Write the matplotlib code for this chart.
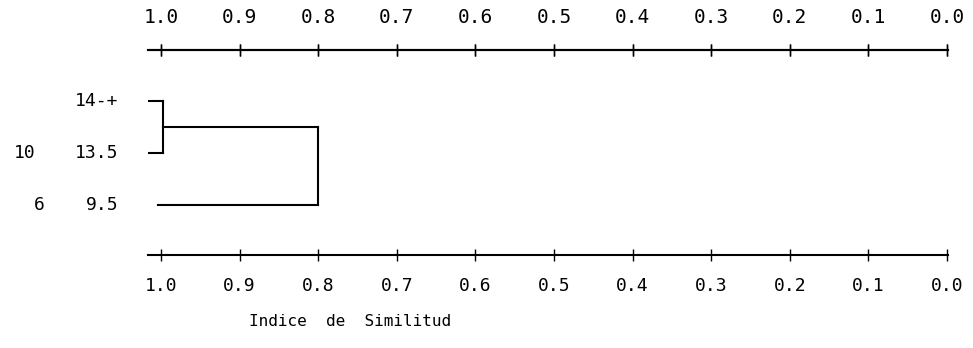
import matplotlib
matplotlib.use("Agg")
import matplotlib.pyplot as plt
import numpy as np

# similarity scale
ticks = [1.0, 0.9, 0.8, 0.7, 0.6, 0.5, 0.4, 0.3, 0.2, 0.1, 0.0]
top_labels = ["1.0", "0.9", "0.8", "0.7", "0.6", "0.5", "0.4", "0.3", "0.2", "0.1", "0.0"]
bottom_labels = ["1.0", "0.9", "0.8", "0.7", "0.6", "0.5", "0.4", "0.3", "0.2", "0.1", "0.0"]

# leaves (top to bottom)
leaf_ids = ["", "10", "6"]
leaf_names = ["14-+", "13.5", "9.5"]

# merges: (leaf a, leaf b, similarity)
merge_1 = (0, 1, 0.998)
merge_2_sim = 0.80  # cluster (0,1) joins leaf 2

plt.rcParams['font.family'] = ['DejaVu Sans Mono']

fig = plt.figure(figsize=(9.73, 3.48), dpi=100)
W, H = 973, 348
ax = fig.add_axes([148 / W, 1 - 255 / H, (948 - 148) / W, (255 - 50) / H])

x_left = 1.0 + 13 / 786
x_right = 0.0 - 1 / 786
ax.set_xlim(x_left, x_right)
ax.set_ylim(2.96, -0.98)

lw = 1.5
stub = 1.016
a, b, s1 = merge_1
# first bracket
ax.plot([stub, s1], [a, a], color="black", lw=lw)
ax.plot([stub, s1], [b, b], color="black", lw=lw)
ax.plot([s1, s1], [a, b], color="black", lw=lw)
mid = (a + b) / 2
# second join
ax.plot([s1, merge_2_sim], [mid, mid], color="black", lw=lw)
ax.plot([1.004, merge_2_sim], [2, 2], color="black", lw=lw)
ax.plot([merge_2_sim, merge_2_sim], [mid, 2], color="black", lw=lw)

# leaf labels
for i, name in enumerate(leaf_names):
    ax.text(1.0547, i, name, ha="right", va="center", fontsize=13, clip_on=False)
id_x = [1.173, 1.173, 1.155]
for i, lid in enumerate(leaf_ids):
    if lid:
        ax.text(id_x[i], i, lid, ha="center", va="center", fontsize=13, clip_on=False)

# axes: top and bottom only
for side in ["left", "right"]:
    ax.spines[side].set_visible(False)
for side in ["top", "bottom"]:
    ax.spines[side].set_linewidth(1.5)
ax.set_yticks([])
ax.set_xticks(ticks)
ax.set_xticklabels(bottom_labels, fontsize=13)
ax.tick_params(axis="x", direction="inout", length=9, width=1.0, pad=11,
               top=True, bottom=True, labeltop=False, labelbottom=True)

sec = ax.secondary_xaxis("top")
sec.set_xticks(ticks)
sec.set_xticklabels(top_labels, fontsize=14)
sec.tick_params(axis="x", direction="inout", length=9, width=1.0, pad=12)
sec.spines["top"].set_linewidth(1.5)

fig.text(350 / W, 1 - 322 / H, "Indice  de  Similitud", ha="center", va="center", fontsize=11.5)

fig.savefig("out.png", dpi=100)
